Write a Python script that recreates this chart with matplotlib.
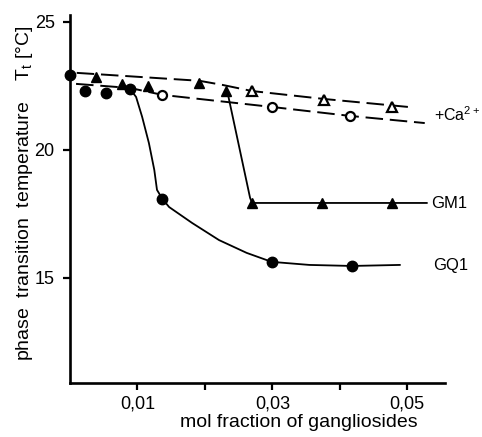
import matplotlib
matplotlib.use('Agg')
import matplotlib.pyplot as plt

plt.rcParams['font.family'] = ['Liberation Sans', 'DejaVu Sans']
plt.rcParams['mathtext.default'] = 'regular'

# measured points (mol fraction, Tt in degC)
gq1_x = [0.0, 0.0022, 0.0053, 0.0089, 0.0137, 0.0299, 0.0418]
gq1_y = [22.93, 22.30, 22.23, 22.38, 18.09, 15.63, 15.47]

gm1_x = [0.0039, 0.0077, 0.0116, 0.0192, 0.0232, 0.0270, 0.0374, 0.0478]
gm1_y = [22.85, 22.58, 22.50, 22.62, 22.30, 17.93, 17.93, 17.93]

gm1_ca_x = [0.0270, 0.0377, 0.0478]
gm1_ca_y = [22.30, 21.95, 21.68]

gq1_ca_x = [0.0137, 0.0299, 0.0415]
gq1_ca_y = [22.15, 21.68, 21.33]

# hand drawn guide curves
gq1_curve_x = [0.0089, 0.0098, 0.0107, 0.0117, 0.0125, 0.0129, 0.0137, 0.0147,
               0.0181, 0.0221, 0.0262, 0.0299, 0.0355, 0.0418, 0.0489]
gq1_curve_y = [22.38, 22.07, 21.29, 20.27, 19.22, 18.44, 18.09, 17.77,
               17.15, 16.48, 15.98, 15.63, 15.51, 15.47, 15.51]

gm1_curve_x = [0.0232, 0.0235, 0.0267, 0.0270, 0.0529]
gm1_curve_y = [22.30, 22.07, 18.13, 17.93, 17.93]

upper_dash_x = [0.0010, 0.0192, 0.0226, 0.0270, 0.0377, 0.0501]
upper_dash_y = [23.01, 22.70, 22.54, 22.30, 21.99, 21.68]

lower_dash_x = [0.0009, 0.0089, 0.0137, 0.0299, 0.0415, 0.0526]
lower_dash_y = [22.58, 22.42, 22.15, 21.68, 21.33, 21.05]

xticks = [0.01, 0.02, 0.03, 0.04, 0.05]
xtick_labels = ['0,01', '', '0,03', '', '0,05']
yticks = [15, 20, 25]

fig = plt.figure(figsize=(4.82, 4.37), dpi=100)
ax = fig.add_axes([0.1452, 0.1236, 0.778, 0.8421])

dash = (0, (9, 3.5))
ax.plot(upper_dash_x, upper_dash_y, color='black', lw=1.4, linestyle=dash, zorder=1)
ax.plot(lower_dash_x, lower_dash_y, color='black', lw=1.4, linestyle=dash, zorder=1)
ax.plot(gq1_curve_x, gq1_curve_y, color='black', lw=1.3, zorder=1)
ax.plot(gm1_curve_x, gm1_curve_y, color='black', lw=1.3, zorder=1)

ax.plot(gq1_x, gq1_y, 'o', color='black', ms=7.5, zorder=3, clip_on=False)
ax.plot(gm1_x, gm1_y, '^', color='black', ms=7.5, zorder=3, clip_on=False)
ax.plot(gm1_ca_x, gm1_ca_y, '^', mfc='white', mec='black', mew=1.6, ms=7, zorder=3)
ax.plot(gq1_ca_x, gq1_ca_y, 'o', mfc='white', mec='black', mew=1.6, ms=6.5, zorder=3)

ax.text(0.0540, 21.37, '+Ca$^{2+}$', fontsize=11.5, va='center', ha='left')
ax.text(0.0536, 17.9, 'GM1', fontsize=12, va='center', ha='left')
ax.text(0.0538, 15.5, 'GQ1', fontsize=12, va='center', ha='left')

ax.set_xlim(0, 0.0556)
ax.set_ylim(10.9, 25.27)
ax.set_xticks(xticks)
ax.set_xticklabels(xtick_labels)
ax.set_yticks(yticks)
ax.tick_params(direction='out', length=5, width=1.6, labelsize=13, pad=4)
ax.tick_params(axis='y', pad=6)

for side in ['top', 'right']:
    ax.spines[side].set_visible(False)
for side in ['left', 'bottom']:
    ax.spines[side].set_linewidth(1.9)

ax.set_xlabel('mol fraction of gangliosides', fontsize=14, labelpad=0)
ax.xaxis.set_label_coords(0.61, -0.085)
ax.set_ylabel('phase  transition  temperature    T$_t$ [°C]', fontsize=14)
ax.yaxis.set_label_coords(-0.093, 0.516)

fig.savefig('out.png', dpi=100)
